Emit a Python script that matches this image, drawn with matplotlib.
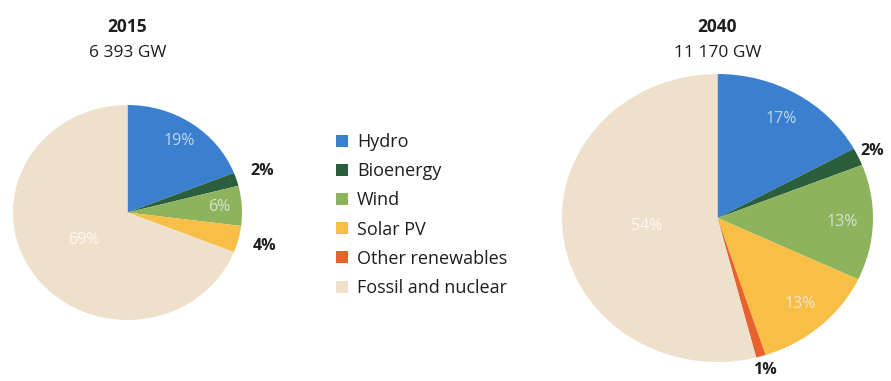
import matplotlib.pyplot as plt
import numpy as np
from matplotlib.patches import Patch

plt.rcParams['font.family'] = ['Open Sans', 'DejaVu Sans']

sources = ['Hydro', 'Bioenergy', 'Wind', 'Solar PV', 'Other renewables', 'Fossil and nuclear']
colors = ['#3a80cf', '#2b5e3c', '#8db35c', '#f8bf47', '#e8622b', '#eee0cb']

years = ['2015', '2040']
capacity = ['6 393 GW', '11 170 GW']
share_2015 = [19, 2, 6, 4, 0, 69]
share_2040 = [17, 2, 13, 13, 1, 54]
shares = [share_2015, share_2040]

# which slices get an outside label (small ones), per year
outside_2015 = ['Bioenergy', 'Solar PV']
outside_2040 = ['Bioenergy', 'Other renewables']
outside = [outside_2015, outside_2040]
outside_r = [1.24, 1.1]

W, H = 891, 381
fig = plt.figure(figsize=(W / 100, H / 100), dpi=100)

# pie boxes in pixels: left, top, width, height
boxes = [(13, 105, 229, 215), (562, 74, 311, 288)]

for i, (vals, box) in enumerate(zip(shares, boxes)):
    l, t, w, h = box
    ax = fig.add_axes([l / W, (H - t - h) / H, w / W, h / H])
    wedges, _ = ax.pie(vals, colors=colors, startangle=90, counterclock=False,
                       radius=1, wedgeprops=dict(linewidth=0))
    ax.set_aspect('auto')
    ax.set_xlim(-1, 1)
    ax.set_ylim(-1, 1)
    ax.axis('off')

    for name, v, wdg in zip(sources, vals, wedges):
        if v == 0:
            continue
        mid = np.deg2rad((wdg.theta1 + wdg.theta2) / 2)
        if name in outside[i]:
            r, col, weight, a = outside_r[i], '#1e1e1e', 'bold', 1
        elif name == 'Fossil and nuclear':
            r, col, weight, a = 0.46, 'white', 'normal', 0.8
        else:
            r, col, weight, a = 0.8, '#eef3f8', 'normal', 0.75
        ax.text(r * np.cos(mid), r * np.sin(mid), f'{v}%', color=col,
                ha='center', va='center', fontsize=11.5, fontweight=weight,
                alpha=a, clip_on=False)

    cx = (l + w / 2) / W
    fig.text(cx, 1 - 27 / H, years[i], ha='center', va='center',
             fontsize=12.5, fontweight='bold', color='#1e1e1e')
    fig.text(cx, 1 - 53 / H, capacity[i], ha='center', va='center',
             fontsize=12.5, color='#1e1e1e')

handles = [Patch(facecolor=c, edgecolor='none') for c in colors]
fig.legend(handles, sources, loc='upper left', bbox_to_anchor=(336 / W, 1 - 133 / H),
           frameon=False, fontsize=13, handlelength=0.65, handleheight=0.65,
           handletextpad=0.5, labelspacing=0.62, borderpad=0, borderaxespad=0,
           labelcolor='#1e1e1e')

fig.savefig('out.png', dpi=100)
